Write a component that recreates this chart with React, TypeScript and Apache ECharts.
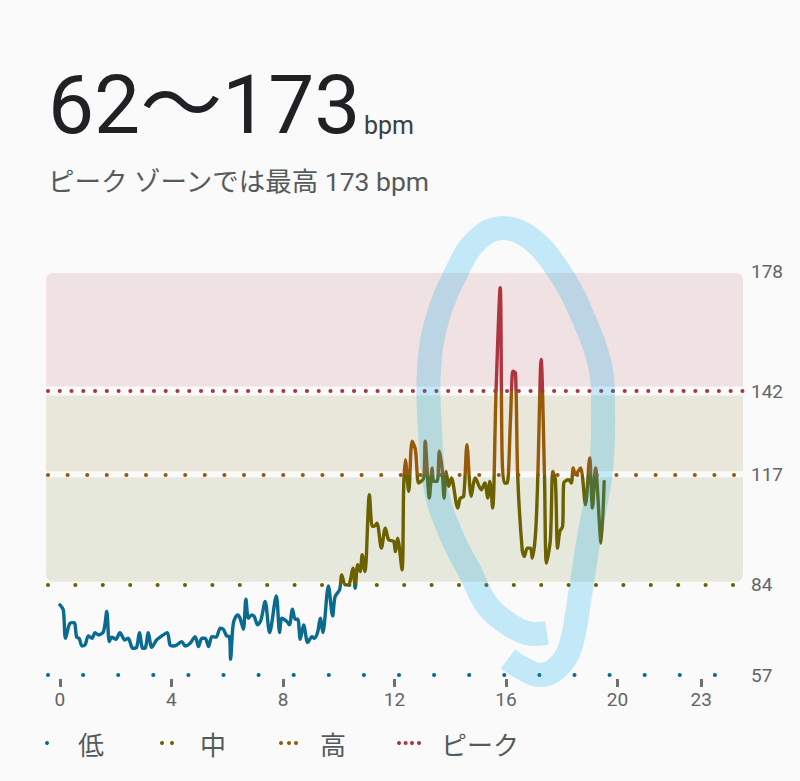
import * as echarts from 'echarts';
import React, { useEffect, useRef } from 'react';

const hours = [
  0, 0.12, 0.2, 0.36, 0.51, 0.6, 0.69, 0.79, 0.9, 1.02, 1.15, 1.26, 1.38, 1.56, 1.68, 1.77, 1.86, 2.01, 2.15, 2.33,
  2.45, 2.61, 2.75, 2.85, 2.97, 3.05, 3.17, 3.29, 3.47, 3.65, 3.85, 3.95, 4.07, 4.19, 4.37, 4.49, 4.67, 4.85, 4.97,
  5.09, 5.21, 5.33, 5.45, 5.6, 5.75, 5.86, 5.98, 6.08, 6.12, 6.22, 6.37, 6.46, 6.58, 6.67, 6.76, 6.88, 6.97, 7.09,
  7.21, 7.36, 7.52, 7.76, 7.88, 7.96, 8.14, 8.23, 8.34, 8.44, 8.53, 8.62, 8.74, 8.89, 9.04, 9.12, 9.24, 9.34, 9.43,
  9.63, 9.78, 9.87, 10.03, 10.11, 10.23, 10.35, 10.51, 10.59, 10.68, 10.77, 10.84, 10.94, 11.1, 11.2, 11.27, 11.37,
  11.53, 11.67, 11.79, 11.97, 12.03, 12.11, 12.27, 12.33, 12.39, 12.51, 12.63, 12.75, 12.87, 13.05, 13.1, 13.25,
  13.35, 13.41, 13.53, 13.61, 13.71, 13.78, 13.85, 13.95, 14.04, 14.27, 14.36, 14.48, 14.6, 14.75, 14.9, 15.11,
  15.24, 15.34, 15.42, 15.52, 15.64, 15.79, 15.86, 15.94, 16.04, 16.16, 16.25, 16.34, 16.42, 16.58, 16.66, 16.76,
  16.88, 16.94, 17.06, 17.14, 17.26, 17.38, 17.45, 17.59, 17.68, 17.77, 17.85, 17.93, 18.03, 18.07, 18.25, 18.34,
  18.41, 18.49, 18.67, 18.85, 19, 19.1, 19.21, 19.41, 19.52,
];

const bpm = [
  78, 76.5, 68, 72.5, 72.7, 68.3, 68, 65.7, 66, 68.7, 68, 69.7, 69, 70, 76, 67, 68.3, 67.7, 69.7, 67.5,
  68, 65, 65.3, 69.7, 65, 65, 69.7, 65.3, 67.5, 68.7, 69.7, 66, 65.7, 66, 67, 65.7, 66.5, 68.5, 65.5,
  68, 68, 65.5, 68.5, 68.3, 71, 70.7, 68.7, 68.5, 61.7, 72.5, 75, 74, 70.7, 79.7, 74, 75, 74.5, 72,
  73.5, 79, 69.7, 80.7, 69.7, 74, 73, 72, 76.7, 73.7, 73.7, 67.7, 72, 66.7, 68.5, 68, 69.7, 74, 69.7,
  83.7, 74.7, 80.5, 82.5, 87, 84, 84, 89, 83, 90, 88, 93, 88, 111, 101.5, 101.5, 102.5,
  95, 101, 97.5, 97, 94, 98, 88.5, 113.5, 121.5, 112, 127, 124.5, 114.5, 116, 127, 110,
  119, 115, 115, 124, 118.5, 110, 118, 113.5, 116, 107, 110, 110.5, 126, 110.5, 116, 112.5,
  114.5, 110, 115, 107, 141.5, 173, 122.5, 114.5, 114.5, 133.5, 148, 147.5, 116.5, 94.5, 92.5, 95,
  95, 92, 99.5, 116.5, 151.5, 116.5, 90.5, 97.5, 118, 115.5, 95, 100, 101.5, 114.5, 115.5, 114.5,
  119, 117, 119, 108, 122, 107, 119, 96.5, 115,
];

const hourTicks = [0, 4, 8, 12, 16, 20, 23];
const bpmTicks = [57, 84, 117, 142, 178];

// zone limits, line colours and dot gaps, low to peak
const zoneNames = ['低', '中', '高', 'ピーク'];
const zoneFloors = [57, 84, 117, 142];
const zoneCeilings = [84, 117, 142, 178];
const zoneColors = ['#0a6a8f', '#6b6100', '#97590a', '#ae3440'];
const zoneDotGaps = [35, 27.3, 19.5, 11.67];

// shaded bands stop short of the dotted lines
const bandFloors = [84.9, 118, 143.4];
const bandCeilings = [116.2, 140.7, 177.4];
const bandColors = ['#e7e8dc', '#e9e7da', '#f0e2e2'];

const legendDotX = [[47], [162, 172], [281, 289, 296], [399, 405.6, 412, 419]];
const legendTextX = [78, 200, 320, 441];

// hand drawn pen mark on top of the screenshot
const penMark = [
  [547, 633], [527, 633], [507, 623], [487, 605], [470, 572], [452, 537], [436, 490], [430, 430], [429, 370],
  [437, 320], [456, 273], [476, 241], [501, 228], [530, 238], [560, 273], [582, 315], [600, 365], [603, 403],
  [601, 470], [589, 537], [580, 595], [570, 648], [557, 668], [540, 675], [522, 668], [508, 659],
];

const App: React.FC = () => {
  const chartRef = useRef<HTMLDivElement>(null);

  useEffect(() => {
    if (!chartRef.current) return;
    const chart = echarts.init(chartRef.current, null, { renderer: 'svg' });

    const dotLines = zoneFloors.map((floor, i) => ({
      type: 'line',
      data: [],
      silent: true,
      z: 3,
      markLine: {
        silent: true,
        symbol: 'none',
        label: { show: false },
        lineStyle: { color: zoneColors[i], width: 4, type: [0.1, zoneDotGaps[i]], cap: 'round' },
        data: [[{ coord: [-0.43, floor] }, { coord: [24.5, floor] }]],
      },
    }));

    const legendItems: any[] = [];
    zoneNames.forEach((name, i) => {
      legendDotX[i].forEach((x) => {
        legendItems.push({
          type: 'circle',
          shape: { cx: x, cy: 743, r: 2 },
          style: { fill: zoneColors[i] },
        });
      });
      legendItems.push({
        type: 'text',
        x: legendTextX[i],
        y: 743,
        style: {
          text: name,
          font: '26px "Noto Sans CJK JP"',
          fill: '#555a5c',
          textVerticalAlign: 'middle',
        },
      });
    });

    chart.setOption({
      animation: false,
      backgroundColor: '#fafafa',
      grid: { left: 46, top: 271, width: 697, height: 404 },
      xAxis: {
        type: 'value',
        min: -0.5,
        max: 24.5,
        offset: 4,
        splitLine: { show: false },
        axisLine: { show: false },
        axisTick: { show: true, customValues: hourTicks, length: 8, lineStyle: { color: '#6f6f6f', width: 3 } },
        axisLabel: {
          customValues: hourTicks,
          margin: 11,
          color: '#616568',
          fontSize: 19,
          fontFamily: 'Roboto',
          formatter: (v: number) => String(v),
        },
      },
      yAxis: {
        type: 'value',
        position: 'right',
        min: 57,
        max: 178,
        splitLine: { show: false },
        axisLine: { show: false },
        axisTick: { show: false },
        axisLabel: {
          customValues: bpmTicks,
          margin: 8,
          color: '#616568',
          fontSize: 19,
          fontFamily: 'Roboto',
          formatter: (v: number) => String(v),
        },
      },
      visualMap: {
        show: false,
        type: 'piecewise',
        seriesIndex: 1,
        dimension: 1,
        pieces: zoneFloors.map((floor, i) => ({ gte: floor, lt: zoneCeilings[i], color: zoneColors[i] })),
      },
      series: [
        {
          type: 'custom',
          silent: true,
          z: 1,
          clip: false,
          data: bandFloors.map((floor, i) => [floor, bandCeilings[i], i]),
          encode: { y: [0, 1] },
          renderItem: (_params: any, api: any) => {
            const i = api.value(2);
            const lowPoint = api.coord([-0.5, api.value(0)]);
            const highPoint = api.coord([24.5, api.value(1)]);
            const r = i === 2 ? [7, 7, 0, 0] : i === 0 ? [0, 0, 7, 7] : 0;
            return {
              type: 'rect',
              shape: {
                x: lowPoint[0],
                y: highPoint[1],
                width: highPoint[0] - lowPoint[0],
                height: lowPoint[1] - highPoint[1],
                r,
              },
              style: { fill: bandColors[i] },
            };
          },
        },
        {
          type: 'line',
          z: 4,
          showSymbol: false,
          symbol: 'none',
          smooth: 0.3,
          lineStyle: { width: 3.4, join: 'round', cap: 'round' },
          data: hours.map((h, i) => [h, bpm[i]]),
        },
        ...dotLines,
      ],
      graphic: [
        {
          type: 'text',
          x: 48,
          y: 105,
          style: {
            text: '62〜173',
            font: '82px Roboto, "Noto Sans CJK JP"',
            fill: '#202124',
            textVerticalAlign: 'middle',
          },
        },
        {
          type: 'text',
          x: 364,
          y: 125,
          style: { text: 'bpm', font: '25px Roboto', fill: '#3c4043', textVerticalAlign: 'middle' },
        },
        {
          type: 'text',
          x: 48,
          y: 181,
          style: {
            text: 'ピーク ゾーンでは最高 173 bpm',
            font: '26.5px Roboto, "Noto Sans CJK JP"',
            fill: '#555a5c',
            textVerticalAlign: 'middle',
          },
        },
        ...legendItems,
        {
          type: 'polyline',
          z: 100,
          silent: true,
          shape: { points: penMark, smooth: 0.4 },
          style: { fill: 'none', stroke: 'rgba(0,170,235,0.22)', lineWidth: 24 },
        },
      ],
    });

    return () => {
      chart.dispose();
    };
  }, []);

  return <div ref={chartRef} style={{ position: 'fixed', left: 0, top: 0, width: 800, height: 781 }} />;
};

export default App;
